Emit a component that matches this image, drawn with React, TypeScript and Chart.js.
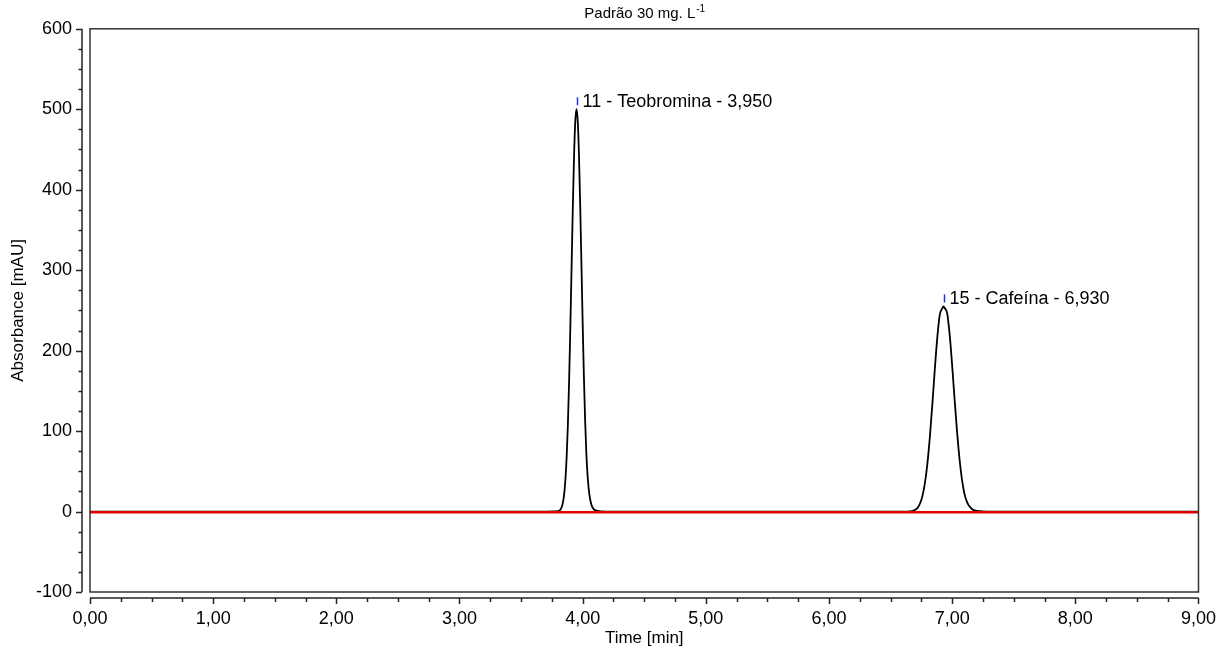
import React, { useEffect, useRef } from "react";
import { Chart, registerables } from "chart.js";

Chart.register(...registerables);

// Chromatogram trace (Time [min] vs Absorbance [mAU])
const timeMin = [
  0, 1, 2, 3, 3.7, 3.8, 3.81, 3.82, 3.83, 3.84, 3.85, 3.86, 3.87, 3.88, 3.89,
  3.9, 3.91, 3.92, 3.93, 3.94, 3.95, 3.96, 3.97, 3.98, 3.99, 4.0, 4.01, 4.02,
  4.03, 4.04, 4.05, 4.06, 4.07, 4.08, 4.09, 4.1, 4.12, 4.15, 4.25, 5, 6, 6.6,
  6.66, 6.68, 6.7, 6.72, 6.74, 6.76, 6.78, 6.8, 6.82, 6.84, 6.86, 6.88, 6.9,
  6.92, 6.93, 6.94, 6.96, 6.98, 7.0, 7.02, 7.04, 7.06, 7.08, 7.1, 7.12, 7.14,
  7.16, 7.18, 7.2, 7.24, 7.35, 8, 9,
];
const absorbance = [
  0, 0, 0, 0, 0, 0.4, 1.1, 2.5, 5.6, 11.4, 22.0, 39.8, 67.7, 108.2, 162.3,
  228.9, 303.3, 377.4, 441.2, 484.6, 500.0, 485.5, 443.5, 381.0, 308.0, 234.5,
  168.0, 113.5, 72.0, 44.5, 27.0, 16.0, 9.0, 5.0, 3.0, 1.8, 0.8, 0.3, 0, 0, 0,
  0, 0.3, 0.8, 2.1, 4.8, 10.3, 20.1, 36.5, 61.1, 94.6, 135.1, 178.5, 217.5,
  245.1, 252.5, 255.0, 252.7, 246.0, 219.5, 181.5, 139.0, 99.0, 65.0, 39.5,
  22.0, 12.0, 6.5, 3.2, 1.6, 0.8, 0.3, 0, 0, 0,
];

// Integration baseline
const baselineTime = [0, 9];
const baselineAbs = [-0.8, -0.8];

// Peak annotations
const peakTimes = [3.95, 6.93];
const peakHeights = [500, 255];
const peakLabels = ["11 - Teobromina - 3,950", "15 - Cafeína - 6,930"];

// Axes
const xMin = 0;
const xMax = 9;
const yMin = -100;
const yMax = 600;
const xTickValues = [0, 1, 2, 3, 4, 5, 6, 7, 8, 9];
const yTickValues = [-100, 0, 100, 200, 300, 400, 500, 600];
const xTitle = "Time [min]";
const yTitle = "Absorbance [mAU]";
const subtitleMain = "Padrão 30 mg. L";
const subtitleSup = "-1";

const FONT = "Arial, 'Liberation Sans', sans-serif";

const decor = {
  id: "decor",
  afterDraw(chart: any) {
    const { ctx, chartArea: a, scales } = chart;
    const xs = scales.x;
    const ys = scales.y;
    ctx.save();
    // plot box
    ctx.strokeStyle = "#333";
    ctx.lineWidth = 1.5;
    ctx.strokeRect(a.left, a.top, a.right - a.left, a.bottom - a.top);

    // offset y axis
    const yAxisX = a.left - 8;
    ctx.strokeStyle = "#222";
    ctx.lineWidth = 1.5;
    ctx.beginPath();
    ctx.moveTo(yAxisX, ys.getPixelForValue(yMax));
    ctx.lineTo(yAxisX, ys.getPixelForValue(yMin));
    ctx.stroke();
    for (let v = yMin; v <= yMax + 0.001; v += 25) {
      const py = Math.round(ys.getPixelForValue(v)) + 0.5;
      const major = Math.abs(v % 100) < 0.001;
      ctx.beginPath();
      ctx.moveTo(yAxisX, py);
      ctx.lineTo(yAxisX - (major ? 6 : 3.5), py);
      ctx.stroke();
    }

    // offset x axis
    const xAxisY = a.bottom + 6;
    ctx.beginPath();
    ctx.moveTo(xs.getPixelForValue(xMin), xAxisY);
    ctx.lineTo(xs.getPixelForValue(xMax), xAxisY);
    ctx.stroke();
    for (let v = xMin; v <= xMax + 0.001; v += 0.25) {
      const px = Math.round(xs.getPixelForValue(v)) + 0.5;
      const major = Math.abs(v - Math.round(v)) < 0.001;
      ctx.beginPath();
      ctx.moveTo(px, xAxisY);
      ctx.lineTo(px, xAxisY + (major ? 6 : 4));
      ctx.stroke();
    }

    // peak markers and labels
    ctx.font = `18px ${FONT}`;
    ctx.textBaseline = "middle";
    ctx.textAlign = "left";
    peakTimes.forEach((t, i) => {
      const px = Math.round(xs.getPixelForValue(t)) + 0.5;
      const py = ys.getPixelForValue(peakHeights[i]);
      ctx.strokeStyle = "#2030e0";
      ctx.lineWidth = 1.5;
      ctx.beginPath();
      ctx.moveTo(px, py - 4);
      ctx.lineTo(px, py - 12);
      ctx.stroke();
      ctx.fillStyle = "#000";
      ctx.fillText(peakLabels[i], px + 5, py - 7);
    });

    // subtitle with superscript
    ctx.font = `15px ${FONT}`;
    const mainW = ctx.measureText(subtitleMain).width;
    ctx.font = `10px ${FONT}`;
    const supW = ctx.measureText(subtitleSup).width;
    const cx = (a.left + a.right) / 2;
    const startX = cx - (mainW + supW) / 2;
    ctx.fillStyle = "#000";
    ctx.textAlign = "left";
    ctx.textBaseline = "alphabetic";
    ctx.font = `15px ${FONT}`;
    ctx.fillText(subtitleMain, startX, 18);
    ctx.font = `10px ${FONT}`;
    ctx.fillText(subtitleSup, startX + mainW + 1, 12);
    ctx.restore();
  },
};

export default function App() {
  const ref = useRef<HTMLCanvasElement | null>(null);
  useEffect(() => {
    if (!ref.current) return;
    const chart = new Chart(ref.current, {
      type: "line",
      data: {
        datasets: [
          {
            data: baselineTime.map((t, i) => ({ x: t, y: baselineAbs[i] })),
            borderColor: "#e00000",
            borderWidth: 2.4,
            pointRadius: 0,
            tension: 0,
          },
          {
            data: timeMin.map((t, i) => ({ x: t, y: absorbance[i] })),
            borderColor: "#000",
            borderWidth: 1.8,
            pointRadius: 0,
            cubicInterpolationMode: "monotone",
          },
        ],
      },
      options: {
        animation: false,
        responsive: false,
        devicePixelRatio: 1,
        layout: { padding: { top: 27, right: 32, left: 0, bottom: 0 } },
        plugins: {
          legend: { display: false },
          tooltip: { enabled: false },
        },
        scales: {
          x: {
            type: "linear",
            min: xMin,
            max: xMax,
            afterFit: (s: any) => {
              s.height = 59;
            },
            afterBuildTicks: (s: any) => {
              s.ticks = xTickValues.map((v) => ({ value: v }));
            },
            grid: { display: false, drawTicks: false, tickLength: 0 },
            border: { display: false },
            ticks: {
              padding: 16,
              color: "#000",
              font: { family: FONT, size: 18 },
              maxRotation: 0,
              autoSkip: false,
              callback: (v: any) => Number(v).toFixed(2).replace(".", ","),
            },
            title: {
              display: true,
              text: xTitle,
              color: "#000",
              font: { family: FONT, size: 17 },
              padding: { top: 0, bottom: 2 },
            },
          },
          y: {
            type: "linear",
            min: yMin,
            max: yMax,
            afterFit: (s: any) => {
              s.width = 90;
            },
            afterBuildTicks: (s: any) => {
              s.ticks = yTickValues.map((v) => ({ value: v }));
            },
            grid: { display: false, drawTicks: false, tickLength: 0 },
            border: { display: false },
            ticks: {
              padding: 18,
              color: "#000",
              font: { family: FONT, size: 18 },
              autoSkip: false,
              callback: (v: any) => String(v),
            },
            title: {
              display: true,
              text: yTitle,
              color: "#000",
              font: { family: FONT, size: 17 },
              padding: { top: 8, bottom: 0 },
            },
          },
        },
      },
      plugins: [decor],
    } as any);
    return () => chart.destroy();
  }, []);
  return (
    <div style={{ position: "fixed", left: 0, top: 0, width: 1232, height: 651, background: "#fff" }}>
      <canvas ref={ref} width={1232} height={651} style={{ width: 1232, height: 651, display: "block" }} />
    </div>
  );
}
